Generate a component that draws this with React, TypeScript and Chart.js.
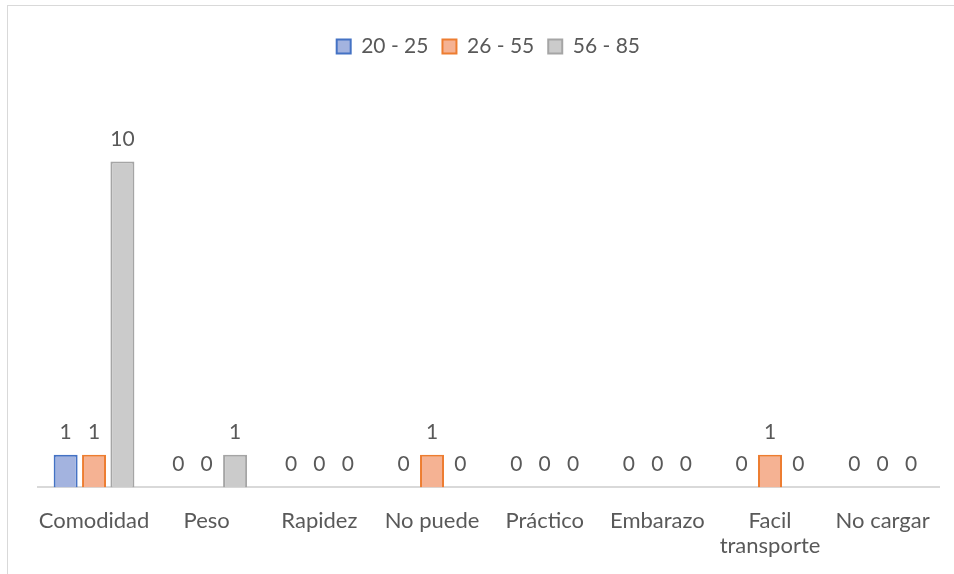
import React, { useEffect, useRef } from "react";
import { Chart, registerables } from "chart.js";

Chart.register(...registerables);

const categories: (string | string[])[] = [
  "Comodidad",
  "Peso",
  "Rapidez",
  "No puede",
  "Práctico",
  "Embarazo",
  ["Facil", "transporte"],
  "No cargar",
];
const seriesNames = ["20 - 25", "26 - 55", "56 - 85"];
const values20_25 = [1, 0, 0, 0, 0, 0, 0, 0];
const values26_55 = [1, 0, 0, 1, 0, 0, 1, 0];
const values56_85 = [10, 1, 0, 0, 0, 0, 0, 0];

const FONT = "Lato, 'Open Sans', sans-serif";
const TEXT = "#595959";

const dataLabelPlugin = {
  id: "dataLabels",
  afterDatasetsDraw(chart: any) {
    const ctx = chart.ctx;
    ctx.save();
    ctx.font = `21px ${FONT}`;
    ctx.fillStyle = TEXT;
    ctx.textAlign = "center";
    ctx.textBaseline = "alphabetic";
    chart.data.datasets.forEach((ds: any, i: number) => {
      const meta = chart.getDatasetMeta(i);
      meta.data.forEach((el: any, j: number) => {
        ctx.fillText(String(ds.data[j]), el.x, el.y - 16);
      });
    });
    ctx.restore();
  },
};

export default function App() {
  const ref = useRef<HTMLCanvasElement | null>(null);
  useEffect(() => {
    document.body.style.margin = "0";
    const canvas = ref.current!;
    const chart = new Chart(canvas, {
      type: "bar",
      data: {
        labels: categories,
        datasets: [
          {
            label: seriesNames[0],
            data: values20_25,
            backgroundColor: "#a3b3df",
            borderColor: "#4472c4",
            borderWidth: 2,
          },
          {
            label: seriesNames[1],
            data: values26_55,
            backgroundColor: "#f5b293",
            borderColor: "#ed7d31",
            borderWidth: 2,
          },
          {
            label: seriesNames[2],
            data: values56_85,
            backgroundColor: "#cbcbcb",
            borderColor: "#a5a5a5",
            borderWidth: 2,
          },
        ],
      },
      options: {
        responsive: false,
        animation: false,
        datasets: {
          bar: { categoryPercentage: 0.756, barPercentage: 0.845 },
        },
        layout: { padding: { left: 37.7, right: 15, top: 22, bottom: -6 } },
        plugins: {
          legend: {
            position: "top",
            labels: {
              boxWidth: 14,
              boxHeight: 14,
              padding: 14,
              color: TEXT,
              font: { family: FONT, size: 21 },
            },
          },
          tooltip: { enabled: false },
        },
        scales: {
          x: {
            grid: { display: false, drawTicks: false },
            border: { display: true, color: "#d9d9d9", width: 2 },
            ticks: {
              color: TEXT,
              font: { family: FONT, size: 22, lineHeight: 1.15 },
              padding: 21,
              maxRotation: 0,
              autoSkip: false,
            },
          },
          y: {
            display: false,
            min: 0,
            max: 12.9,
          },
        },
      },
      plugins: [dataLabelPlugin],
    });
    return () => chart.destroy();
  }, []);
  return (
    <div
      style={{
        position: "fixed",
        left: 0,
        top: 0,
        width: 954,
        height: 574,
        background: "#ffffff",
      }}
    >
      <div
        style={{
          position: "absolute",
          left: 7,
          top: 5,
          right: 0,
          bottom: 0,
          borderLeft: "1px solid #d9d9d9",
          borderTop: "1px solid #d9d9d9",
        }}
      />
      <canvas
        ref={ref}
        width={954}
        height={574}
        style={{ position: "absolute", left: 0, top: 0 }}
      />
    </div>
  );
}
